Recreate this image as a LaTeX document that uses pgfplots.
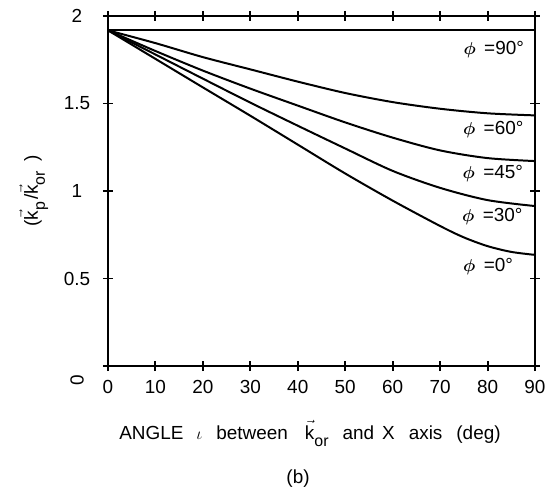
\documentclass[border=0pt]{standalone}
\usepackage{fontspec}
\setmainfont{Liberation Sans}
\usepackage{amsmath}
\usepackage{bm}
\usepackage{pgfplots}
\pgfplotsset{compat=1.18}

\newcommand{\bigf}{\fontsize{19}{22}\selectfont}
\newcommand{\vk}[1]{$\vec{\text{k}}$\raisebox{-7bp}{\fontsize{16}{18}\selectfont #1}}
\newcommand{\phil}[1]{$\bm{\phi}$ \,=#1°}

\begin{document}
\begin{tikzpicture}[lbl/.style={font=\bigf}]
\path[use as bounding box] (-108bp,-121bp) rectangle (450bp,366bp);
\begin{axis}[
  name=ax, at={(0,0)}, anchor=south west,
  scale only axis, width=427bp, height=350bp,
  xmin=0, xmax=90, ymin=0, ymax=2,
  xtick={0,10,...,90}, ytick={0,0.5,1,1.5,2},
  yticklabels={,0.5,1,1.5,2},
  tick align=center, major tick length=10bp,
  axis line style={line width=1.6pt},
  tick style={line width=2pt, black},
  tick label style={font=\bigf},
  /pgf/number format/assume math mode=true,
  yticklabel style={anchor=center, xshift=-26bp},
  xticklabel style={yshift=-6bp},
  clip=false,
]
% phi = 90
\addplot[line width=2pt] coordinates {(0,1.918) (90,1.918)};
% phi = 60
\addplot[line width=2pt, smooth] coordinates {
  (0,1.918) (10,1.845) (20,1.765) (30,1.695) (40,1.625) (50,1.560)
  (60,1.508) (70,1.470) (80,1.444) (90,1.432)};
% phi = 45
\addplot[line width=2pt, smooth] coordinates {
  (0,1.918) (10,1.800) (20,1.688) (30,1.585) (40,1.488) (50,1.392)
  (60,1.305) (70,1.232) (80,1.188) (90,1.171)};
% phi = 30
\addplot[line width=2pt, smooth] coordinates {
  (0,1.918) (10,1.780) (20,1.642) (30,1.505) (40,1.373) (50,1.243)
  (60,1.115) (70,1.018) (80,0.948) (90,0.914)};
% phi = 0
\addplot[line width=2pt, smooth] coordinates {
  (0,1.918) (10,1.755) (20,1.592) (30,1.430) (40,1.265) (50,1.100)
  (60,0.945) (70,0.800) (75,0.735) (80,0.685) (85,0.652) (90,0.635)};

\node[lbl, anchor=east] at (axis cs:88.4,1.806) {\phil{90}};
\node[lbl, anchor=east] at (axis cs:88.3,1.349) {\phil{60}};
\node[lbl, anchor=east] at (axis cs:88.2,1.101) {\phil{45}};
\node[lbl, anchor=east] at (axis cs:88.1,0.853) {\phil{30}};
\node[lbl, anchor=east] at (axis cs:86.1,0.567) {\phil{0}};

\node[lbl, rotate=90] at ([xshift=-31bp,yshift=-14bp]rel axis cs:0,0) {0};
\node[lbl, rotate=90, anchor=base] at ([xshift=-70bp]rel axis cs:0,0.5)
  {(\vk{p}\hspace{2bp}/\vk{or}\hspace{9bp})};
\node[lbl, anchor=base] at ([yshift=-73bp]rel axis cs:0.473,0)
  {ANGLE\hspace{13bp}$\iota$\hspace{14bp}between\hspace{17bp}\vk{or}\hspace{14bp}and\hspace{8bp}X\hspace{14bp}axis\hspace{14bp}(deg)};
\node[lbl, anchor=base] at ([yshift=-117bp]rel axis cs:0.445,0) {(b)};
\end{axis}
\end{tikzpicture}
\end{document}
